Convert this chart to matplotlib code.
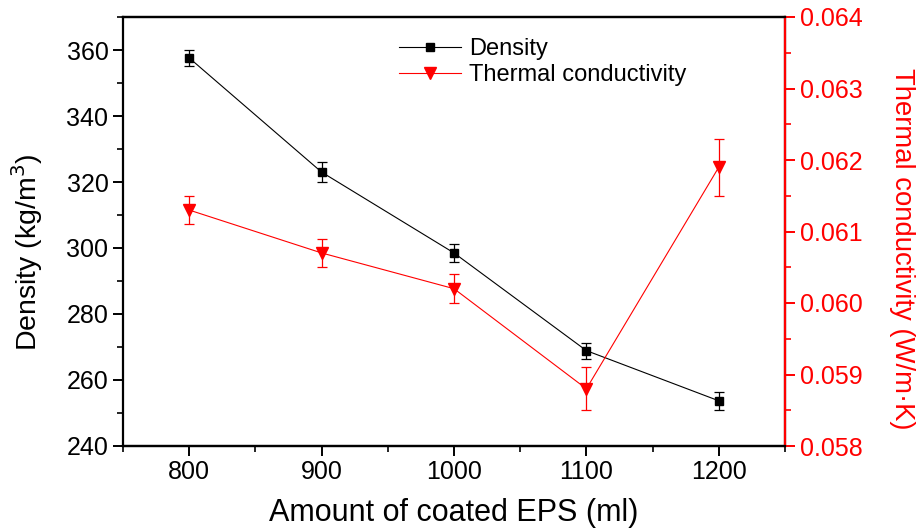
import matplotlib
matplotlib.use("Agg")
import matplotlib.pyplot as plt
from matplotlib.ticker import MultipleLocator
from matplotlib.lines import Line2D

plt.rcParams['font.family'] = ['Liberation Sans', 'DejaVu Sans']

eps_ml = [800, 900, 1000, 1100, 1200]
density = [357.6, 323.0, 298.5, 268.9, 253.7]
density_err = [2.3, 3.0, 2.8, 2.4, 2.8]
thermal = [0.0613, 0.0607, 0.0602, 0.0588, 0.0619]
thermal_err = [0.0002, 0.0002, 0.0002, 0.0003, 0.0004]

fig = plt.figure(figsize=(9.17, 5.31), dpi=100)
ax = fig.add_axes([123/917, 1-446/531, (785-123)/917, (446-17)/531])
ax2 = ax.twinx()

ax.errorbar(eps_ml, density, yerr=density_err, color='black', marker='s',
            markersize=6, linewidth=0.8, elinewidth=0.9, capsize=3.5,
            capthick=0.9, zorder=3)
ax2.errorbar(eps_ml, thermal, yerr=thermal_err, color='red', marker='v',
             markersize=8, linewidth=0.8, elinewidth=0.9, capsize=3.5,
             capthick=0.9, zorder=3)

ax.set_xlim(750, 1250)
ax.set_ylim(240, 370)
ax2.set_ylim(0.058, 0.064)

ax.xaxis.set_major_locator(MultipleLocator(100))
ax.xaxis.set_minor_locator(MultipleLocator(50))
ax.yaxis.set_major_locator(MultipleLocator(20))
ax.yaxis.set_minor_locator(MultipleLocator(10))
ax2.yaxis.set_major_locator(MultipleLocator(0.001))
ax2.yaxis.set_minor_locator(MultipleLocator(0.0005))
ax2.yaxis.set_major_formatter(plt.FormatStrFormatter('%.3f'))

for a in (ax, ax2):
    for s in a.spines.values():
        s.set_linewidth(1.6)
ax2.spines['right'].set_color('red')
ax2.spines['left'].set_visible(False)

ax.tick_params(axis='both', which='major', direction='out', length=7, width=1.4, labelsize=18)
ax.tick_params(axis='both', which='minor', direction='out', length=4, width=1.2)
ax.tick_params(axis='x', which='both', top=False)
ax.tick_params(axis='x', which='major', pad=3)
ax2.tick_params(axis='y', which='major', direction='out', length=7, width=1.4,
                labelsize=18, colors='red')
ax2.tick_params(axis='y', which='minor', direction='out', length=4, width=1.2, colors='red')

ax.set_xlabel('Amount of coated EPS (ml)', fontsize=22)
ax.xaxis.set_label_coords(0.5, -0.122)
ax.set_ylabel('Density (kg/m$^3$)', fontsize=20.5)
ax.yaxis.set_label_coords(-0.118, 0.452)
ax2.set_ylabel('Thermal conductivity (W/m·K)', fontsize=19.8, color='red',
               rotation=270, va='center')
ax2.yaxis.set_label_coords(1.177, 0.46)

handles = [
    Line2D([], [], color='black', marker='s', markersize=6, linewidth=0.8),
    Line2D([], [], color='red', marker='v', markersize=8, linewidth=0.8),
]
labels = ['Density', 'Thermal conductivity']
ax.legend(handles, labels, loc='upper left', bbox_to_anchor=(0.385, 1.0),
          frameon=False, fontsize=17, handlelength=2.6, handletextpad=0.35,
          labelspacing=0.15)

fig.savefig('out.png', dpi=100, facecolor='white')
